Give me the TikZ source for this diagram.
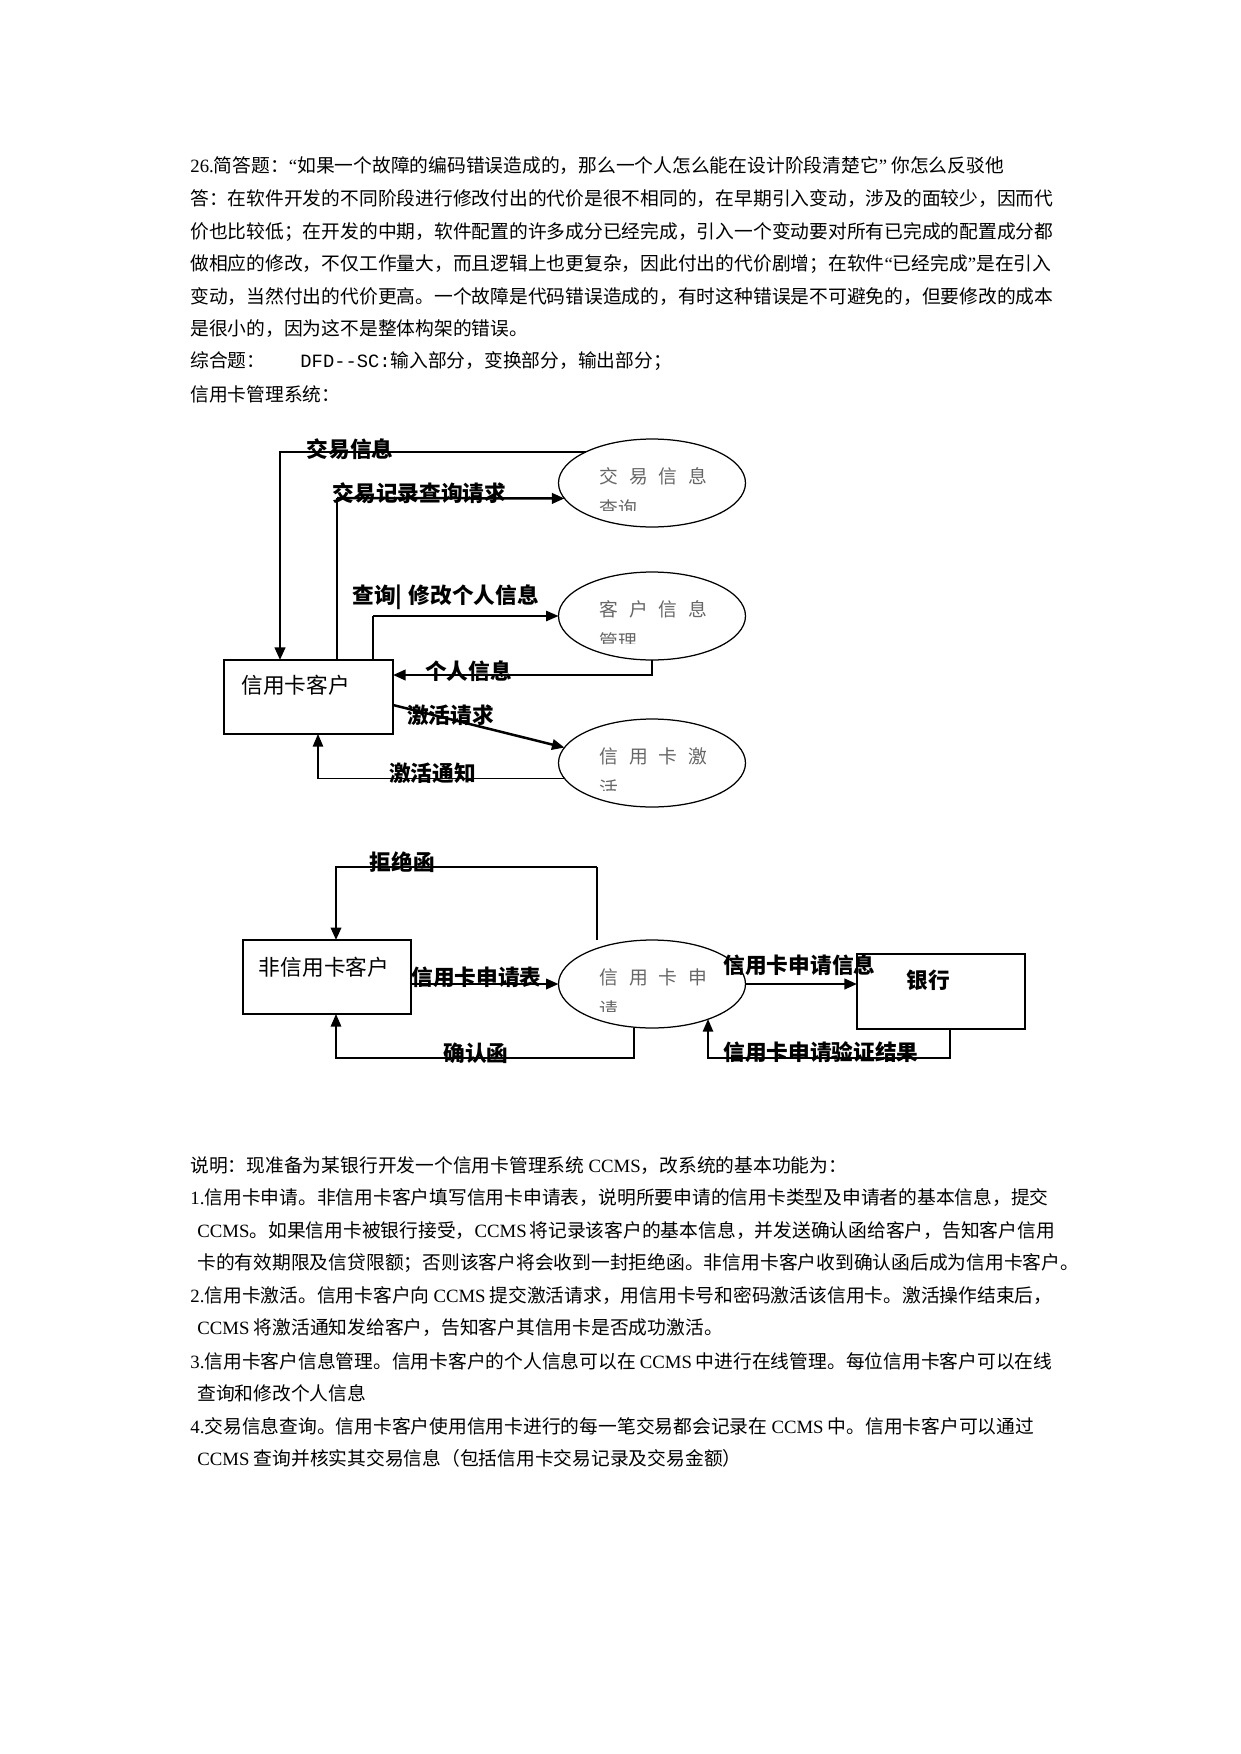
\documentclass[tikz,border=0pt]{standalone}
\usepackage{fontspec}
\setmainfont{Liberation Serif}
\setmonofont{Liberation Mono}
\newfontfamily\cjk{Noto Sans CJK SC}
\usetikzlibrary{arrows.meta, positioning, shapes.geometric, calc}
\XeTeXlinebreaklocale "zh"
\XeTeXlinebreakskip=0pt plus 1pt
\definecolor{procText}{HTML}{666666}
\newcommand{\lat}[1]{{\rmfamily #1}}
\newcommand{\procgap}{\hspace{5.2pt}}
\newcommand{\fullline}[1]{\makebox[413.5pt][s]{#1}}
\tikzset{
  entity/.style={draw, line width=0.8pt, inner sep=0pt, outer sep=0pt},
  process/.style={draw, ellipse, line width=0.6pt, minimum width=89.7pt, minimum height=42.2pt, inner sep=0pt, outer sep=0pt},
  flowlbl/.style={font=\cjk\bfseries\fontsize{10.4}{12}\selectfont, inner sep=0pt},
  boxlbl/.style={font=\cjk\fontsize{10.4}{12}\selectfont, inner sep=0pt},
  proclbl/.style={font=\cjk\fontsize{9}{11}\selectfont, text=procText, inner sep=0pt, anchor=west},
  bodyline/.style={font=\cjk\fontsize{9}{11}\selectfont, inner sep=0pt, anchor=west},
  lightflow/.style={line width=0.5pt},
  heavyarr/.style={-{Triangle[length=6pt, width=5pt]}, line width=1.2pt},
  midarr/.style={-{Triangle[length=6pt, width=5pt]}, line width=0.75pt},
  lightarr/.style={-{Triangle[length=6pt, width=5pt]}, line width=0.5pt},
}

\begin{document}
\begin{tikzpicture}[x=0.4797pt, y=-0.4797pt]
  \useasboundingbox (0,0) rectangle (1241,1754);
  \fill[white] (0,0) rectangle (1241,1754);

  % question and answer
  \node[bodyline] (t1) at (190,166) {\lat{26.}简答题：\lat{“}如果一个故障的编码错误造成的，那么一个人怎么能在设计阶段清楚它\lat{”} 你怎么反驳他};
  \node[bodyline] (t2) at (190,199) {\fullline{答：在软件开发的不同阶段进行修改付出的代价是很不相同的，在早期引入变动，涉及的面较少，因而代}};
  \node[bodyline] (t3) at (190,232) {\fullline{价也比较低；在开发的中期，软件配置的许多成分已经完成，引入一个变动要对所有已完成的配置成分都}};
  \node[bodyline] (t4) at (190,264) {\fullline{做相应的修改，不仅工作量大，而且逻辑上也更复杂，因此付出的代价剧增；在软件\lat{“}已经完成\lat{”}是在引入}};
  \node[bodyline] (t5) at (190,297) {\fullline{变动，当然付出的代价更高。一个故障是代码错误造成的，有时这种错误是不可避免的，但要修改的成本}};
  \node[bodyline] (t6) at (190,329) {是很小的，因为这不是整体构架的错误。};
  \node[bodyline] (t7) at (190,361) {综合题：\hspace{16.8pt}{\ttfamily DFD{-}{-}SC:}输入部分，变换部分，输出部分；};
  \node[bodyline] (t8) at (190,394) {信用卡管理系统：};

  % DFD: credit card customer
  \node[entity, minimum width=81.1pt, minimum height=35.5pt] (cc) at (308.5,697) {};
  \node[boxlbl, anchor=west] (cclbl) at (241,685) {信用卡客户};
  \node[process] (E1) at (652,483) {};
  \node[process] (E2) at (652,616) {};
  \node[process] (E3) at (652,763) {};

  % DFD: application
  \node[entity, minimum width=80.6pt, minimum height=35.5pt] (ncc) at (327,977) {};
  \node[boxlbl] (ncclbl) at (324,967) {非信用卡客户};
  \node[process] (E4) at (652,984) {};
  \node[entity, minimum width=80.6pt, minimum height=36pt] (bank) at (941,991.5) {};
  \node[boxlbl, font=\cjk\bfseries\fontsize{10.4}{12}\selectfont] (banklbl) at (928.5,980) {银行};

  % process names, cut off by their text boxes
  \foreach \pn/\pa/\pb in {E1/交\procgap 易\procgap 信\procgap 息/查询, E2/客\procgap 户\procgap 信\procgap 息/管理,
      E3/信\procgap 用\procgap 卡\procgap 激/活, E4/信\procgap 用\procgap 卡\procgap 申/请} {
    \begin{scope}
      \clip ($(\pn.center)+(-94,-46)$) rectangle ($(\pn.center)+(94,27)$);
      \node[proclbl] (\pn-a) at ($(\pn.center)+(-53,-7)$) {\pa};
      \node[proclbl] (\pn-b) at ($(\pn.center)+(-53,25)$) {\pb};
    \end{scope}
  }

  % flows, upper diagram
  \coordinate (k1) at (280,453);
  \coordinate (k2) at (337,498);
  \coordinate (k3) at (373,616);
  \coordinate (k4) at (652,675);
  \coordinate (k6) at (318,778);
  \draw[heavyarr] (E1.north west) -- (E1.north west -| k1) -- (k1 |- cc.north);
  \draw[lightflow] (k2 |- cc.north) -- (k2);
  \draw[heavyarr] (k2) -- (E1.190);
  \draw[lightflow] (k3 |- cc.north) -- (k3);
  \draw[midarr] (k3) -- (E2.west);
  \draw[heavyarr] (E2.south) -- (k4) -- (k4 -| cc.east);
  \draw[heavyarr] ($(cc.east)+(0,8)$) -- (E3.170);
  \draw[lightarr] (E3.190) -- (k6 |- E3.190) -- (k6 |- cc.south);

  % flows, lower diagram
  \coordinate (k7) at (597,867);
  \coordinate (k8) at (336,867);
  \coordinate (k9) at (634,1058);
  \coordinate (k10) at (950,1058);
  \coordinate (k11) at (708,1058);
  \draw[lightflow] (k7 |- E4.north) -- (k7);
  \draw[heavyarr] (k7) -- (k8) -- (k8 |- ncc.north);
  \draw[heavyarr] (ncc.east |- E4.west) -- (E4.west);
  \draw[heavyarr] (E4.east) -- (E4.east -| bank.west);
  \draw[midarr] (k9 |- E4.south) -- (k9) -- (k9 -| k8) -- (k8 |- ncc.south);
  \draw[midarr] (k10 |- bank.south) -- (k10) -- (k11) -- (k11 |- E4.328);

  % flow labels
  \node[flowlbl] (l1) at (350,449) {交易信息};
  \node[flowlbl] (l2) at (419.5,493) {交易记录查询请求};
  \node[flowlbl, anchor=west] (l3) at (352,597) {查询|\hspace{3pt}修改个人信息};
  \node[flowlbl] (l4) at (468.5,671) {个人信息};
  \node[flowlbl] (l5) at (450.5,715) {激活请求};
  \node[flowlbl] (l6) at (432.5,773) {激活通知};
  \node[flowlbl] (l7) at (402.5,862) {拒绝函};
  \node[flowlbl, anchor=west] (l8) at (411,977) {信用卡申请表};
  \node[flowlbl] (l9) at (799.5,965) {信用卡申请信息};
  \node[flowlbl] (l10) at (476,1053) {确认函};
  \node[flowlbl] (l11) at (821,1052) {信用卡申请验证结果};

  % description
  \node[bodyline] (s1) at (190,1166) {说明：现准备为某银行开发一个信用卡管理系统 \lat{CCMS}，改系统的基本功能为：};
  \node[bodyline] (s2) at (190,1198) {\fullline{\lat{1.}信用卡申请。非信用卡客户填写信用卡申请表，说明所要申请的信用卡类型及申请者的基本信息，提交}};
  \node[bodyline] (s3) at (197,1231) {\makebox[410pt][s]{\lat{CCMS}。如果信用卡被银行接受，\lat{CCMS} 将记录该客户的基本信息，并发送确认函给客户，告知客户信用}};
  \node[bodyline] (s4) at (197,1263) {\makebox[411pt][s]{卡的有效期限及信贷限额；否则该客户将会收到一封拒绝函。非信用卡客户收到确认函后成为信用卡客户。}};
  \node[bodyline] (s5) at (190,1296) {\fullline{\lat{2.}信用卡激活。信用卡客户向 \lat{CCMS} 提交激活请求，用信用卡号和密码激活该信用卡。激活操作结束后，}};
  \node[bodyline] (s6) at (197,1328) {\lat{CCMS} 将激活通知发给客户，告知客户其信用卡是否成功激活。};
  \node[bodyline] (s7) at (190,1361) {\fullline{\lat{3.}信用卡客户信息管理。信用卡客户的个人信息可以在 \lat{CCMS} 中进行在线管理。每位信用卡客户可以在线}};
  \node[bodyline] (s8) at (197,1393) {查询和修改个人信息};
  \node[bodyline] (s9) at (190,1426) {\lat{4.}交易信息查询。信用卡客户使用信用卡进行的每一笔交易都会记录在 \lat{CCMS} 中。信用卡客户可以通过};
  \node[bodyline] (s10) at (197,1458) {\lat{CCMS} 查询并核实其交易信息（包括信用卡交易记录及交易金额）};
\end{tikzpicture}
\end{document}
